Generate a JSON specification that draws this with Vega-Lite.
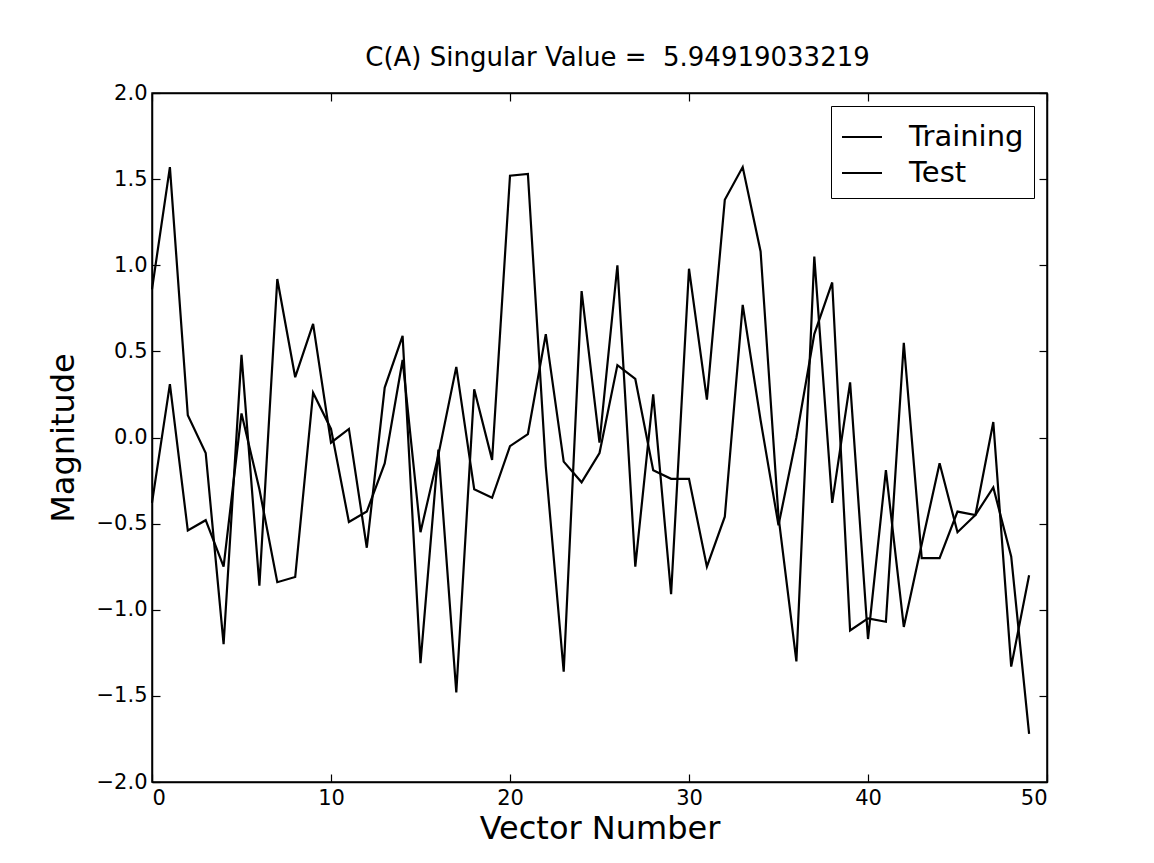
{
  "$schema": "https://vega.github.io/schema/vega-lite/v6.json",
  "autosize": {"type": "none"},
  "padding": {"left": 152, "top": 93, "right": 107, "bottom": 81},
  "width": 895,
  "height": 689,
  "background": "white",
  "title": {"text": "C(A) Singular Value =\u00a0\u00a05.94919033219", "fontSize": 26, "fontWeight": "normal", "font": "DejaVu Sans", "color": "black", "offset": 11, "anchor": "middle", "dx": 18},
  "data": {"values": [
    {"x":0,"series":"Training","v":0.86},{"x":1,"series":"Training","v":1.57},{"x":2,"series":"Training","v":0.13},{"x":3,"series":"Training","v":-0.09},{"x":4,"series":"Training","v":-1.2},
    {"x":5,"series":"Training","v":0.48},{"x":6,"series":"Training","v":-0.86},{"x":7,"series":"Training","v":0.92},{"x":8,"series":"Training","v":0.35},{"x":9,"series":"Training","v":0.66},
    {"x":10,"series":"Training","v":-0.03},{"x":11,"series":"Training","v":0.05},{"x":12,"series":"Training","v":-0.64},{"x":13,"series":"Training","v":0.29},{"x":14,"series":"Training","v":0.59},
    {"x":15,"series":"Training","v":-1.31},{"x":16,"series":"Training","v":-0.07},{"x":17,"series":"Training","v":-1.48},{"x":18,"series":"Training","v":0.28},{"x":19,"series":"Training","v":-0.13},
    {"x":20,"series":"Training","v":1.52},{"x":21,"series":"Training","v":1.53},{"x":22,"series":"Training","v":-0.17},{"x":23,"series":"Training","v":-1.36},{"x":24,"series":"Training","v":0.85},
    {"x":25,"series":"Training","v":-0.03},{"x":26,"series":"Training","v":1.0},{"x":27,"series":"Training","v":-0.75},{"x":28,"series":"Training","v":0.25},{"x":29,"series":"Training","v":-0.91},
    {"x":30,"series":"Training","v":0.98},{"x":31,"series":"Training","v":0.22},{"x":32,"series":"Training","v":1.38},{"x":33,"series":"Training","v":1.57},{"x":34,"series":"Training","v":1.08},
    {"x":35,"series":"Training","v":-0.46},{"x":36,"series":"Training","v":-1.3},{"x":37,"series":"Training","v":1.05},{"x":38,"series":"Training","v":-0.38},{"x":39,"series":"Training","v":0.32},
    {"x":40,"series":"Training","v":-1.17},{"x":41,"series":"Training","v":-0.19},{"x":42,"series":"Training","v":-1.1},{"x":43,"series":"Training","v":-0.62},{"x":44,"series":"Training","v":-0.15},
    {"x":45,"series":"Training","v":-0.55},{"x":46,"series":"Training","v":-0.45},{"x":47,"series":"Training","v":0.09},{"x":48,"series":"Training","v":-1.33},{"x":49,"series":"Training","v":-0.8},
    {"x":0,"series":"Test","v":-0.38},{"x":1,"series":"Test","v":0.31},{"x":2,"series":"Test","v":-0.54},{"x":3,"series":"Test","v":-0.48},{"x":4,"series":"Test","v":-0.75},
    {"x":5,"series":"Test","v":0.14},{"x":6,"series":"Test","v":-0.3},{"x":7,"series":"Test","v":-0.84},{"x":8,"series":"Test","v":-0.81},{"x":9,"series":"Test","v":0.26},
    {"x":10,"series":"Test","v":0.05},{"x":11,"series":"Test","v":-0.49},{"x":12,"series":"Test","v":-0.43},{"x":13,"series":"Test","v":-0.15},{"x":14,"series":"Test","v":0.45},
    {"x":15,"series":"Test","v":-0.55},{"x":16,"series":"Test","v":-0.1},{"x":17,"series":"Test","v":0.41},{"x":18,"series":"Test","v":-0.3},{"x":19,"series":"Test","v":-0.35},
    {"x":20,"series":"Test","v":-0.05},{"x":21,"series":"Test","v":0.02},{"x":22,"series":"Test","v":0.6},{"x":23,"series":"Test","v":-0.14},{"x":24,"series":"Test","v":-0.26},
    {"x":25,"series":"Test","v":-0.09},{"x":26,"series":"Test","v":0.42},{"x":27,"series":"Test","v":0.34},{"x":28,"series":"Test","v":-0.19},{"x":29,"series":"Test","v":-0.24},
    {"x":30,"series":"Test","v":-0.24},{"x":31,"series":"Test","v":-0.75},{"x":32,"series":"Test","v":-0.46},{"x":33,"series":"Test","v":0.77},{"x":34,"series":"Test","v":0.1},
    {"x":35,"series":"Test","v":-0.51},{"x":36,"series":"Test","v":0.0},{"x":37,"series":"Test","v":0.6},{"x":38,"series":"Test","v":0.9},{"x":39,"series":"Test","v":-1.12},
    {"x":40,"series":"Test","v":-1.05},{"x":41,"series":"Test","v":-1.07},{"x":42,"series":"Test","v":0.55},{"x":43,"series":"Test","v":-0.7},{"x":44,"series":"Test","v":-0.7},
    {"x":45,"series":"Test","v":-0.43},{"x":46,"series":"Test","v":-0.45},{"x":47,"series":"Test","v":-0.29},{"x":48,"series":"Test","v":-0.69},{"x":49,"series":"Test","v":-1.72}
  ]},
  "layer": [
    {
      "transform": [{"filter": "datum.series === 'Training'"}],
      "mark": {"type": "line", "strokeWidth": 2.2},
      "encoding": {
        "x": {"field": "x", "type": "quantitative", "scale": {"domain": [0, 50], "nice": false, "zero": false},
              "axis": {"orient": "bottom", "title": "Vector Number", "titleFontSize": 32, "values": [0, 10, 20, 30, 40, 50], "format": "d", "titlePadding": 5}},
        "y": {"field": "v", "type": "quantitative", "scale": {"domain": [-2, 2], "nice": false, "zero": false},
              "axis": {"orient": "left", "title": "Magnitude", "titleFontSize": 32, "values": [-2, -1.5, -1, -0.5, 0, 0.5, 1, 1.5, 2], "format": ".1f", "titlePadding": 16}},
        "color": {"field": "series", "type": "nominal", "scale": {"domain": ["Training", "Test"], "range": ["black", "black"]},
                  "legend": {"orient": "top-right", "offset": 13, "title": null, "symbolType": "stroke", "symbolSize": 1600, "symbolStrokeWidth": 2,
                             "labelFontSize": 29, "labelFont": "DejaVu Sans", "labelColor": "black", "labelOffset": 26, "rowPadding": 0,
                             "strokeColor": "black", "fillColor": "white", "padding": 10, "cornerRadius": 0}}
      }
    },
    {
      "transform": [{"filter": "datum.series === 'Test'"}],
      "mark": {"type": "line", "strokeWidth": 2.2},
      "encoding": {
        "x": {"field": "x", "type": "quantitative", "scale": {"domain": [0, 50], "nice": false, "zero": false},
              "axis": {"orient": "top", "title": null, "labels": false, "values": [0, 10, 20, 30, 40, 50]}},
        "y": {"field": "v", "type": "quantitative", "scale": {"domain": [-2, 2], "nice": false, "zero": false},
              "axis": {"orient": "right", "title": null, "labels": false, "values": [-2, -1.5, -1, -0.5, 0, 0.5, 1, 1.5, 2]}},
        "color": {"field": "series", "type": "nominal"}
      }
    }
  ],
  "resolve": {"axis": {"x": "independent", "y": "independent"}},
  "config": {
    "font": "DejaVu Sans",
    "view": {"stroke": "black", "strokeWidth": 1.5},
    "axis": {"grid": false, "domainColor": "black", "domainWidth": 1.5, "tickColor": "black", "tickSize": -8, "tickWidth": 1.2,
             "labelColor": "black", "labelFontSize": 21, "labelFont": "DejaVu Sans", "labelPadding": 13,
             "titleColor": "black", "titleFontWeight": "normal", "titleFont": "DejaVu Sans"}
  }
}
